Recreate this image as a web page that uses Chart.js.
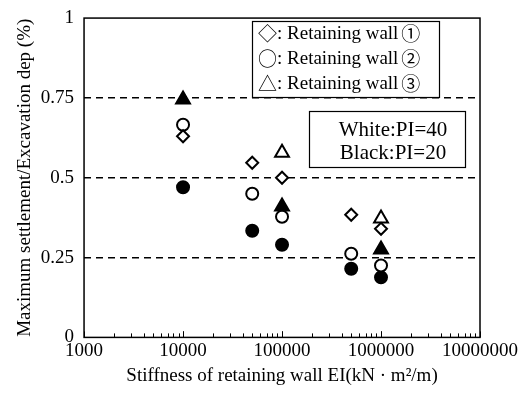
<!DOCTYPE html>
<html>
<head>
<meta charset="utf-8">
<script src="https://cdn.jsdelivr.net/npm/chart.js@4"></script>
<style>
    html, body { margin: 0; padding: 0; background: #fff; }
    #wrap { width: 520px; height: 393px; }
</style>
</head>
<body>
<div id="wrap"><canvas id="chart"></canvas></div>
<script>
const FONT = "'Liberation Serif', 'Times New Roman', serif";
const SYM_FONT = "'Noto Sans CJK JP', 'DejaVu Sans', sans-serif";

// Stiffness EI (kN·m2/m) for each group of walls
const stiffness = [10000, 50000, 100000, 500000, 1000000];

// Maximum settlement / excavation depth (%)
const wall1White = [0.63, 0.547, 0.50, 0.384, 0.34];
const wall2White = [0.666, 0.45, 0.378, 0.262, 0.225];
const wall2Black = [0.47, 0.334, 0.29, 0.215, 0.188];
const wall3White = [null, null, 0.578, null, 0.372];
const wall3Black = [0.745, null, 0.41, null, 0.275];

const xTicks = [1000, 10000, 100000, 1000000, 10000000];
const yTicks = [0, 0.25, 0.5, 0.75, 1];

const legendSymbols = ['\u25C7', '\u25CB', '\u25B3'];
const legendNumbers = ['\u2460', '\u2461', '\u2462'];
const legendText = ': Retaining wall';
const noteLines = ['White:PI=40', 'Black:PI=20'];

const toPoints = (vals) => stiffness
    .map((x, i) => ({ x, y: vals[i] }))
    .filter(p => p.y !== null);

const makeSet = (label, vals, style, filled, radius) => ({
    label,
    data: toPoints(vals),
    pointStyle: style,
    pointRadius: radius,
    pointHoverRadius: radius,
    pointBorderWidth: 2,
    pointBorderColor: '#000',
    pointBackgroundColor: filled ? '#000' : '#fff',
    showLine: false
});

// Frame, inward ticks on the x axis, legend and note boxes.
const decorations = {
    id: 'decorations',
    afterDraw(chart) {
        const { ctx, chartArea: a, scales: { x } } = chart;
        ctx.save();
        ctx.strokeStyle = '#000';
        ctx.lineWidth = 1.5;
        ctx.strokeRect(a.left, a.top, a.right - a.left, a.bottom - a.top);

        ctx.lineWidth = 1;
        ctx.beginPath();
        for (let dec = 1000; dec < 10000000; dec *= 10) {
            for (let m = 1; m <= 10; m++) {
                const px = Math.round(x.getPixelForValue(dec * m)) + 0.5;
                const len = (m === 1 || m === 10) ? 6 : 4;
                ctx.moveTo(px, a.bottom);
                ctx.lineTo(px, a.bottom - len);
            }
        }
        ctx.stroke();

        // legend box
        ctx.lineWidth = 1.2;
        ctx.fillStyle = '#fff';
        ctx.fillRect(252, 21, 187, 76);
        ctx.strokeRect(252.5, 21.5, 187, 76);
        ctx.fillStyle = '#000';
        ctx.textBaseline = 'middle';
        ctx.textAlign = 'left';
        legendSymbols.forEach((s, i) => {
            const y = 34 + i * 25;
            let cx = 258;
            ctx.font = '19px ' + SYM_FONT;
            ctx.fillText(s, cx, y);
            cx += ctx.measureText(s).width;
            ctx.font = '19px ' + FONT;
            ctx.fillText(legendText, cx, y);
            cx += ctx.measureText(legendText).width + 3;
            ctx.font = '19px ' + SYM_FONT;
            ctx.fillText(legendNumbers[i], cx, y);
        });

        // PI note box
        ctx.fillStyle = '#fff';
        ctx.fillRect(309, 111, 156, 56);
        ctx.strokeRect(309.5, 111.5, 156, 56);
        ctx.fillStyle = '#000';
        ctx.font = '21px ' + FONT;
        ctx.textAlign = 'center';
        noteLines.forEach((t, i) => ctx.fillText(t, 393, 130 + i * 23));
        ctx.restore();
    }
};

new Chart(document.getElementById('chart'), {
    type: 'scatter',
    data: {
        datasets: [
            makeSet('Wall 1 PI=40', wall1White, 'rectRot', false, 6),
            makeSet('Wall 2 PI=40', wall2White, 'circle', false, 6),
            makeSet('Wall 2 PI=20', wall2Black, 'circle', true, 6),
            makeSet('Wall 3 PI=40', wall3White, 'triangle', false, 8),
            makeSet('Wall 3 PI=20', wall3Black, 'triangle', true, 8)
        ]
    },
    options: {
        responsive: true,
        maintainAspectRatio: false,
        animation: false,
        layout: { padding: { top: 0, right: 4, left: 14, bottom: 6 } },
        plugins: {
            legend: { display: false },
            tooltip: { enabled: false }
        },
        scales: {
            x: {
                type: 'logarithmic',
                min: 1000,
                max: 10000000,
                afterBuildTicks: (s) => { s.ticks = xTicks.map(v => ({ value: v })); },
                grid: { display: false, drawTicks: false },
                border: { display: false },
                ticks: {
                    color: '#000',
                    font: { family: FONT, size: 19 },
                    padding: 2,
                    maxRotation: 0,
                    autoSkip: false,
                    callback: (v) => String(v)
                },
                title: {
                    display: true,
                    text: 'Stiffness of retaining wall EI(kN \u00B7 m\u00B2/m)',
                    color: '#000',
                    font: { family: FONT, size: 19 },
                    padding: { top: 0, bottom: 0 }
                }
            },
            y: {
                min: 0,
                max: 1,
                afterBuildTicks: (s) => { s.ticks = yTicks.map(v => ({ value: v })); },
                grid: {
                    drawTicks: false,
                    color: (c) => (c.tick && (c.tick.value === 0 || c.tick.value === 1)) ? 'rgba(0,0,0,0)' : '#000',
                    lineWidth: 1.5
                },
                border: { display: false, dash: [7, 5] },
                ticks: {
                    color: '#000',
                    font: { family: FONT, size: 19, lineHeight: 0.85 },
                    padding: 10,
                    callback: (v) => String(v)
                },
                title: {
                    display: true,
                    text: 'Maximum settlement/Excavation dep (%)',
                    color: '#000',
                    font: { family: FONT, size: 19 },
                    padding: { top: 0, bottom: -6 }
                }
            }
        }
    },
    plugins: [decorations]
});
</script>
</body>
</html>
